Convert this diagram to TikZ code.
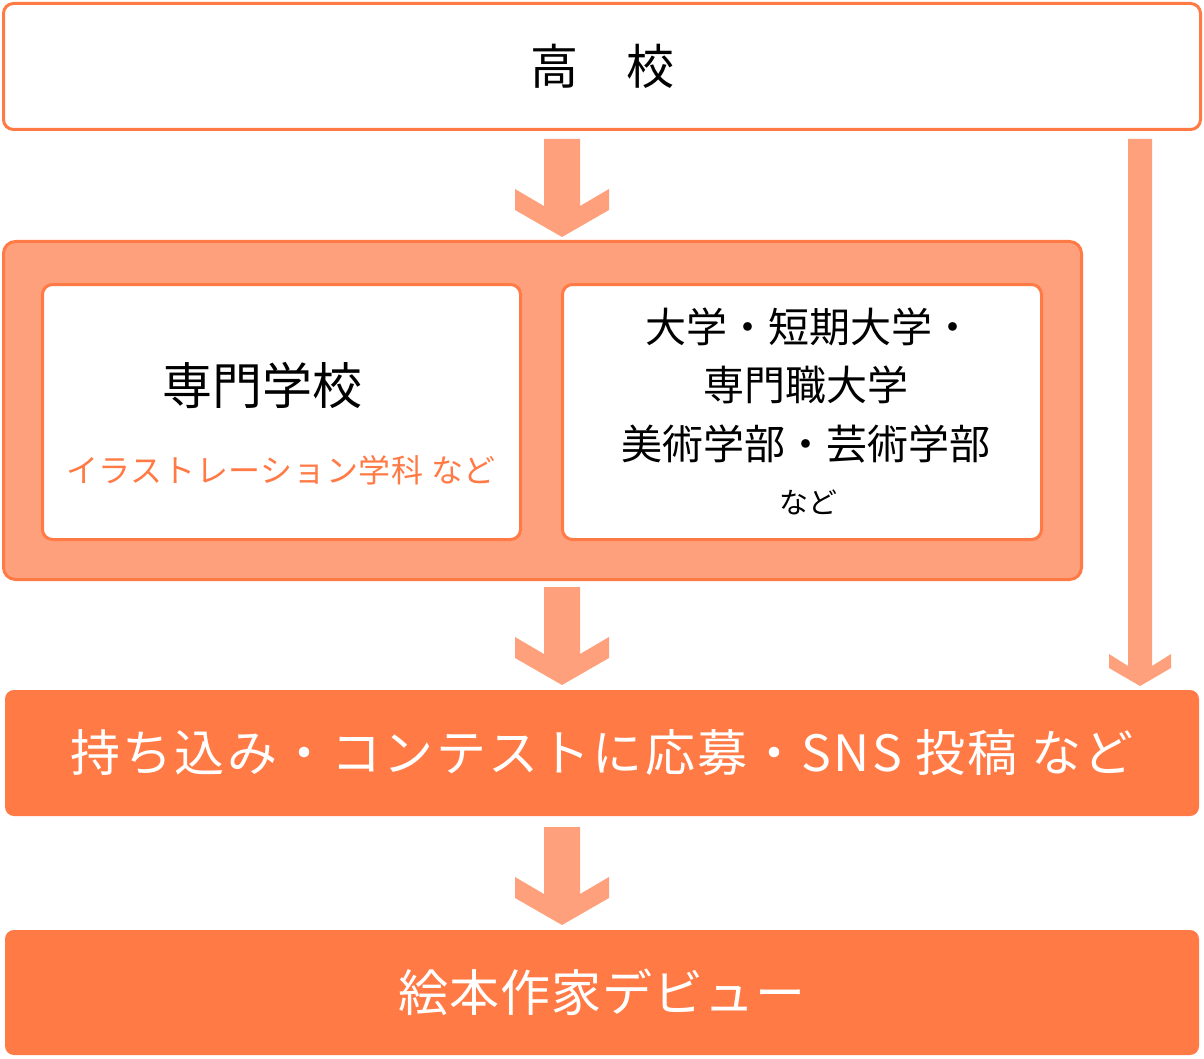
\documentclass[tikz,border=0pt]{standalone}
\usepackage{fontspec}
\setmainfont{Noto Sans CJK JP}
\usetikzlibrary{calc}
\definecolor{dark}{RGB}{255,122,69}
\definecolor{light}{RGB}{255,160,125}
\newcommand\bigarrow[2]{\fill[light] let \p1=#1, \p2=#2 in
  (\x1-18pt,\y1) -- (\x1+18pt,\y1) -- (\x1+18pt,\y2+31pt) -- (\x1+47pt,\y2+48pt)
  -- (\x1+47pt,\y2+27pt) -- (\x1,\y2) -- (\x1-47pt,\y2+27pt) -- (\x1-47pt,\y2+48pt)
  -- (\x1-18pt,\y2+31pt) -- cycle;}
\newcommand\thinarrow[2]{\fill[light] let \p1=#1, \p2=#2 in
  (\x1-12pt,\y1) -- (\x1+12pt,\y1) -- (\x1+12pt,\y2+20pt) -- (\x1+31pt,\y2+32pt)
  -- (\x1+31pt,\y2+18pt) -- (\x1,\y2) -- (\x1-31pt,\y2+18pt) -- (\x1-31pt,\y2+32pt)
  -- (\x1-12pt,\y2+20pt) -- cycle;}
\begin{document}
\begin{tikzpicture}[x=1pt,y=-1pt,
  whitebox/.style={draw=dark, fill=white, line width=3pt, rounded corners=10pt, inner sep=0pt, outer sep=0pt},
  lightbox/.style={draw=dark, fill=light, line width=3pt, rounded corners=12pt, inner sep=0pt, outer sep=0pt},
  solidbox/.style={fill=dark, rounded corners=9pt, inner sep=0pt, outer sep=0pt, text=white},
  txt/.style={inner sep=0pt, outer sep=0pt}]
\useasboundingbox (0,0) rectangle (1204,1059);
% boxes
\node[whitebox, minimum width=1197pt, minimum height=126pt] (hs) at (602,66.5)
  {\fontsize{48pt}{58pt}\selectfont 高　校};
\node[lightbox, minimum width=1078pt, minimum height=338pt] (mid) at (542.5,410.5) {};
\node[whitebox, minimum width=478pt, minimum height=255pt] (sen) at (281.5,412) {};
\node[whitebox, minimum width=479pt, minimum height=255pt] (dai) at (802,412) {};
\node[solidbox, minimum width=1194pt, minimum height=126pt] (sub) at (602,753)
  {\fontsize{50pt}{60pt}\selectfont\addfontfeatures{LetterSpace=4.5}持ち込み・コンテストに応募・SNS 投稿 など};
\node[solidbox, minimum width=1194pt, minimum height=125pt] (deb) at (602,992.5)
  {\fontsize{50pt}{60pt}\selectfont\addfontfeatures{LetterSpace=2}絵本作家デビュー};
% texts in inner boxes
\node[txt] (senT) at (262,385) {\fontsize{50pt}{60pt}\selectfont 専門学校};
\node[txt, text=dark] (senS) at (281,470) {\fontsize{32pt}{40pt}\selectfont\addfontfeatures{LetterSpace=2}イラストレーション学科 など};
\node[txt] (d1) at (809,327) {\fontsize{41pt}{50pt}\selectfont 大学・短期大学・};
\node[txt] (d2) at (806,385) {\fontsize{41pt}{50pt}\selectfont 専門職大学};
\node[txt] (d3) at (806,444) {\fontsize{41pt}{50pt}\selectfont 美術学部・芸術学部};
\node[txt] (d4) at (808,502) {\fontsize{29pt}{36pt}\selectfont など};
% arrows
\coordinate (ax1) at (562,0);
\coordinate (ax2) at (1140,0);
\bigarrow{($(hs.south -| ax1)+(0,9.5)$)}{($(mid.north -| ax1)+(0,-4.5)$)}
\bigarrow{($(mid.south -| ax1)+(0,7.5)$)}{($(sub.north -| ax1)+(0,-5)$)}
\bigarrow{($(sub.south -| ax1)+(0,11)$)}{($(deb.north -| ax1)+(0,-5)$)}
\thinarrow{($(hs.south -| ax2)+(0,9.5)$)}{($(sub.north -| ax2)+(0,-4)$)}
\end{tikzpicture}
\end{document}
